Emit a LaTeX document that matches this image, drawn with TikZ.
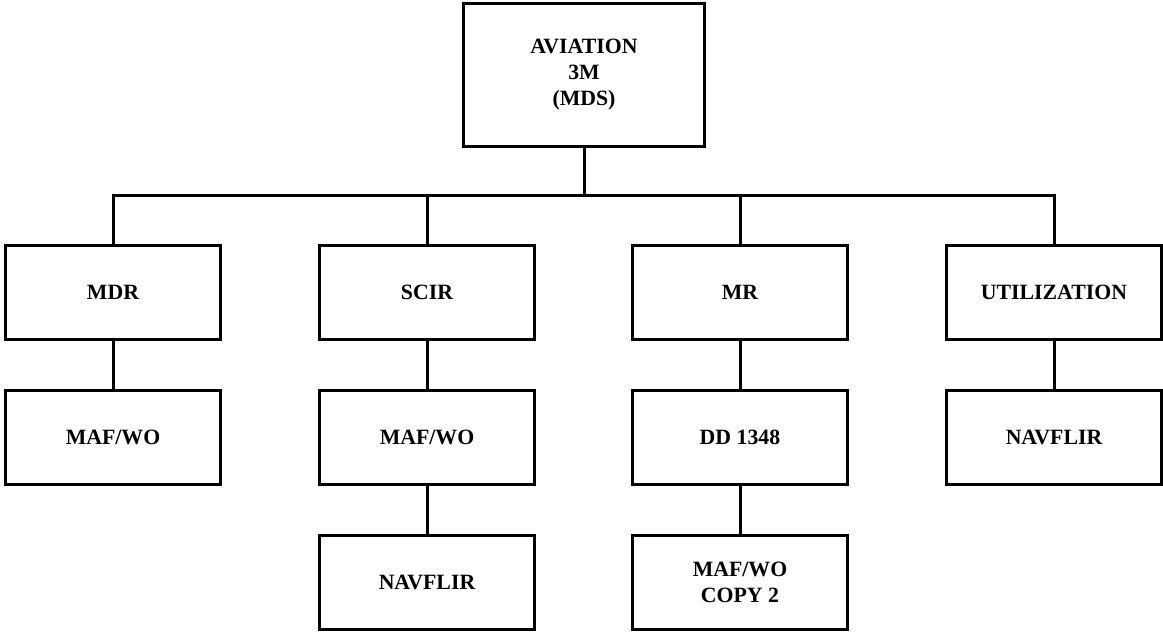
\documentclass[tikz,border=0pt]{standalone}
\usepackage{fontspec}
\setmainfont{Liberation Serif}
\usepackage{tikz}
\usetikzlibrary{positioning}

\tikzset{
	box/.style={draw, line width=3pt, minimum width=215pt, minimum height=94pt,
		align=center, font=\fontsize{21.8}{26}\selectfont\bfseries, inner sep=0pt},
	topbox/.style={box, minimum width=241pt, minimum height=143pt},
	link/.style={line width=3pt}
}

\begin{document}
\begin{tikzpicture}[x=1pt, y=-1pt]
	%\draw [help lines] (0,0) grid (1163,632);
	\useasboundingbox (0,0) rectangle (1163,632);
	
	%VERTICE
	\node[topbox] (aviation) at (584,75) {AVIATION\\3M\\(MDS)};
	\coordinate (bus) at (584,195);
	
	%PRIMA RIGA
	\node[box] (mdr)  at (113,292) {MDR};
	\node[box] (scir) at (427,292) {SCIR};
	\node[box] (mr)   at (740,292) {MR};
	\node[box] (util) at (1054,292) {UTILIZATION};
	
	%SECONDA RIGA
	\node[box] (mdrmaf)  at (113,437) {MAF/WO};
	\node[box] (scirmaf) at (427,437) {MAF/WO};
	\node[box] (dd)      at (740,437) {DD 1348};
	\node[box] (utilnav) at (1054,437) {NAVFLIR};
	
	%TERZA RIGA
	\node[box] (scirnav) at (427,582) {NAVFLIR};
	\node[box] (copy)    at (740,582) {MAF/WO\\COPY 2};
	
	%LINEE
	\draw[link] (aviation) -- (bus);
	\draw[link] (mdr.north) -- (mdr.north |- bus) -- (util.north |- bus) -- (util.north);
	\draw[link] (scir.north) -- (scir.north |- bus);
	\draw[link] (mr.north) -- (mr.north |- bus);
	
	\draw[link] (mdr) -- (mdrmaf);
	\draw[link] (scir) -- (scirmaf);
	\draw[link] (mr) -- (dd);
	\draw[link] (util) -- (utilnav);
	
	\draw[link] (scirmaf) -- (scirnav);
	\draw[link] (dd) -- (copy);
	
\end{tikzpicture}
\end{document}
